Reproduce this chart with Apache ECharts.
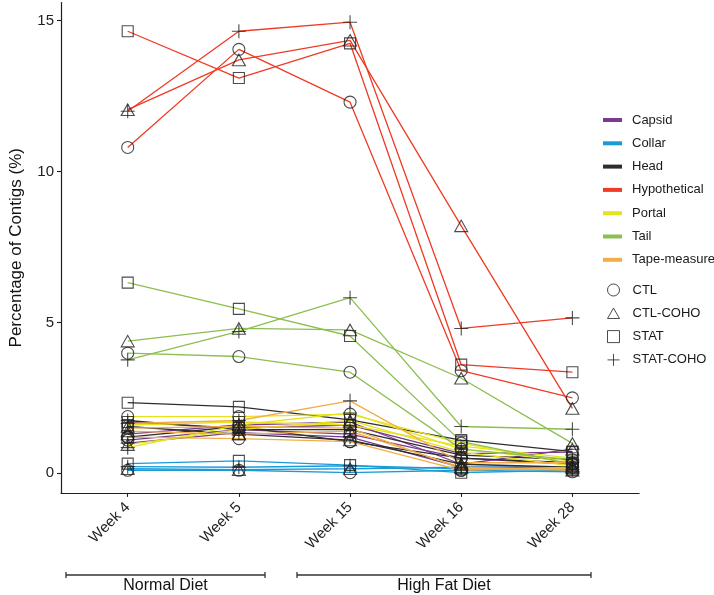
<!DOCTYPE html>
<html>
<head>
<meta charset="utf-8">
<script src="https://cdn.jsdelivr.net/npm/echarts@6/dist/echarts.min.js"></script>
<style>
html,body{margin:0;padding:0;background:#fff;}
#chart{width:714px;height:595px;}
</style>
</head>
<body>
<div id="chart"></div>
<script>
// ---- data ----
const weeks = ['Week 4', 'Week 5', 'Week 15', 'Week 16', 'Week 28'];
const categories = ['Capsid', 'Collar', 'Head', 'Hypothetical', 'Portal', 'Tail', 'Tape-measure'];
const groups = ['CTL', 'CTL-COHO', 'STAT', 'STAT-COHO'];
const yTicks = [0, 5, 10, 15];

// rows in each array: CTL, CTL-COHO, STAT, STAT-COHO ; columns follow weeks
const capsid = [
  [1.10, 1.45, 1.30, 0.50, 0.30],
  [1.30, 1.60, 1.70, 0.30, 0.80],
  [1.70, 1.50, 1.60, 0.65, 0.70],
  [1.00, 1.35, 1.20, 0.20, 0.20]
];
const collar = [
  [0.10, 0.10, 0.02, 0.10, 0.05],
  [0.15, 0.12, 0.15, 0.20, 0.20],
  [0.32, 0.41, 0.27, 0.02, 0.10],
  [0.22, 0.20, 0.25, 0.15, 0.12]
];
const head = [
  [1.20, 1.55, 1.05, 0.50, 0.35],
  [1.55, 1.30, 1.10, 0.30, 0.20],
  [2.34, 2.20, 1.77, 1.10, 0.72],
  [1.75, 1.45, 1.45, 0.60, 0.45]
];
const hypothetical = [
  [10.80, 14.05, 12.30, 3.40, 2.50],
  [12.05, 13.70, 14.35, 8.20, 2.15],
  [14.65, 13.10, 14.25, 3.60, 3.35],
  [12.00, 14.65, 14.95, 4.80, 5.15]
];
const portal = [
  [1.88, 1.88, 1.96, 1.00, 0.30],
  [0.95, 1.45, 1.75, 0.70, 0.25],
  [1.60, 1.70, 1.60, 0.90, 0.50],
  [0.85, 1.60, 2.00, 0.80, 0.40]
];
const tail = [
  [3.98, 3.87, 3.35, 0.80, 0.45],
  [4.38, 4.80, 4.75, 3.15, 0.99],
  [6.32, 5.45, 4.55, 1.05, 0.30],
  [3.76, 4.70, 5.82, 1.55, 1.46]
];
const tapeMeasure = [
  [1.20, 1.15, 1.05, 0.10, 0.20],
  [1.40, 1.30, 1.40, 0.20, 0.10],
  [1.50, 1.55, 1.50, 0.15, 0.15],
  [1.65, 1.75, 2.40, 0.35, 0.35]
];

// ---- styles ----
const catData = [capsid, collar, head, hypothetical, portal, tail, tapeMeasure];
const catColors = ['#7B3B8C', '#1A9BD7', '#2E2E2E', '#EF3B24', '#E5E31C', '#8CBF4F', '#F2AD48'];
const plusPath = 'path://M5,0L5,10M0,5L10,5';
const triPath = 'path://M5,0L10,8.66L0,8.66Z';
const sqPath = 'path://M0,0L10,0L10,10L0,10Z';
const groupSymbols = ['circle', 'triangle', 'rect', plusPath];
const groupSizes = [12, [13, 11.5], 11, 14];
const legendIcons = ['circle', triPath, sqPath, plusPath];
const ink = '#1f1f1f';
const font = 'Liberation Sans, Arial, sans-serif';

const series = [];
categories.forEach((c, ci) => {
  groups.forEach((g, gi) => {
    series.push({
      name: c,
      type: 'line',
      data: weeks.map((w, wi) => [wi, catData[ci][gi][wi]]),
      symbol: 'none',
      showSymbol: false,
      lineStyle: { color: catColors[ci], width: 1.3 },
      itemStyle: { color: catColors[ci] },
      z: 2,
      silent: true,
      animation: false
    });
  });
});
groups.forEach((g, gi) => {
  const pts = [];
  categories.forEach((c, ci) => {
    weeks.forEach((w, wi) => pts.push([wi, catData[ci][gi][wi]]));
  });
  series.push({
    name: g,
    type: 'scatter',
    data: pts,
    symbol: groupSymbols[gi],
    symbolSize: groupSizes[gi],
    itemStyle: { color: 'rgba(0,0,0,0)', borderColor: ink, borderWidth: 1.1 },
    z: 3,
    silent: true,
    animation: false
  });
});

const chart = echarts.init(document.getElementById('chart'), null, { renderer: 'canvas' });
chart.setOption({
  backgroundColor: '#fff',
  animation: false,
  grid: { left: 51.5, right: 74.9, top: 2.6, bottom: 102.1, containLabel: false },
  xAxis: {
    type: 'value',
    min: -0.6,
    max: 4.6,
    splitLine: { show: false },
    axisLine: { show: true, onZero: false, lineStyle: { color: ink, width: 1.2 } },
    axisTick: { show: true, length: 4, customValues: weeks.map((w, i) => i), lineStyle: { color: ink, width: 1.1 } },
    axisLabel: {
      customValues: weeks.map((w, i) => i),
      formatter: v => weeks[Math.round(v)] || '',
      rotate: 45,
      margin: 12,
      fontSize: 15,
      color: '#222',
      fontFamily: font
    }
  },
  yAxis: {
    type: 'value',
    min: -0.65,
    max: 15.6,
    name: 'Percentage of Contigs (%)',
    nameLocation: 'middle',
    nameGap: 36,
    nameTextStyle: { fontSize: 17, color: '#111', fontFamily: font },
    splitLine: { show: false },
    axisLine: { show: true, onZero: false, lineStyle: { color: ink, width: 1.2 } },
    axisTick: { show: true, length: 4, customValues: yTicks, lineStyle: { color: ink, width: 1.1 } },
    axisLabel: {
      customValues: yTicks,
      margin: 7,
      fontSize: 15,
      color: '#222',
      fontFamily: font
    }
  },
  legend: [
    {
      data: categories,
      orient: 'vertical',
      left: 598,
      top: 108.5,
      icon: 'rect',
      itemWidth: 19,
      itemHeight: 4,
      itemGap: 10.3,
      selectedMode: false,
      textStyle: { fontSize: 13, color: '#1a1a1a', padding: [0, 0, 0, 5], fontFamily: font }
    },
    {
      data: groups.map((g, gi) => ({ name: g, icon: legendIcons[gi] })),
      orient: 'vertical',
      left: 602,
      top: 278.5,
      itemWidth: 12,
      itemHeight: 12,
      itemGap: 10.3,
      selectedMode: false,
      itemStyle: { color: 'rgba(0,0,0,0)', borderColor: ink, borderWidth: 1 },
      textStyle: { fontSize: 13, color: '#1a1a1a', padding: [0, 0, 0, 8], fontFamily: font }
    }
  ],
  graphic: [
    { type: 'line', shape: { x1: 66, y1: 575, x2: 265, y2: 575 }, style: { stroke: '#333', lineWidth: 1.3 } },
    { type: 'line', shape: { x1: 66, y1: 572, x2: 66, y2: 578 }, style: { stroke: '#333', lineWidth: 1.3 } },
    { type: 'line', shape: { x1: 265, y1: 572, x2: 265, y2: 578 }, style: { stroke: '#333', lineWidth: 1.3 } },
    { type: 'line', shape: { x1: 297, y1: 575, x2: 591, y2: 575 }, style: { stroke: '#333', lineWidth: 1.3 } },
    { type: 'line', shape: { x1: 297, y1: 572, x2: 297, y2: 578 }, style: { stroke: '#333', lineWidth: 1.3 } },
    { type: 'line', shape: { x1: 591, y1: 572, x2: 591, y2: 578 }, style: { stroke: '#333', lineWidth: 1.3 } },
    { type: 'text', x: 165.5, y: 586, style: { text: 'Normal Diet', fontSize: 16, fill: '#111', align: 'center', verticalAlign: 'middle', fontFamily: font } },
    { type: 'text', x: 444, y: 586, style: { text: 'High Fat Diet', fontSize: 16, fill: '#111', align: 'center', verticalAlign: 'middle', fontFamily: font } }
  ],
  series: series
});
</script>
</body>
</html>
